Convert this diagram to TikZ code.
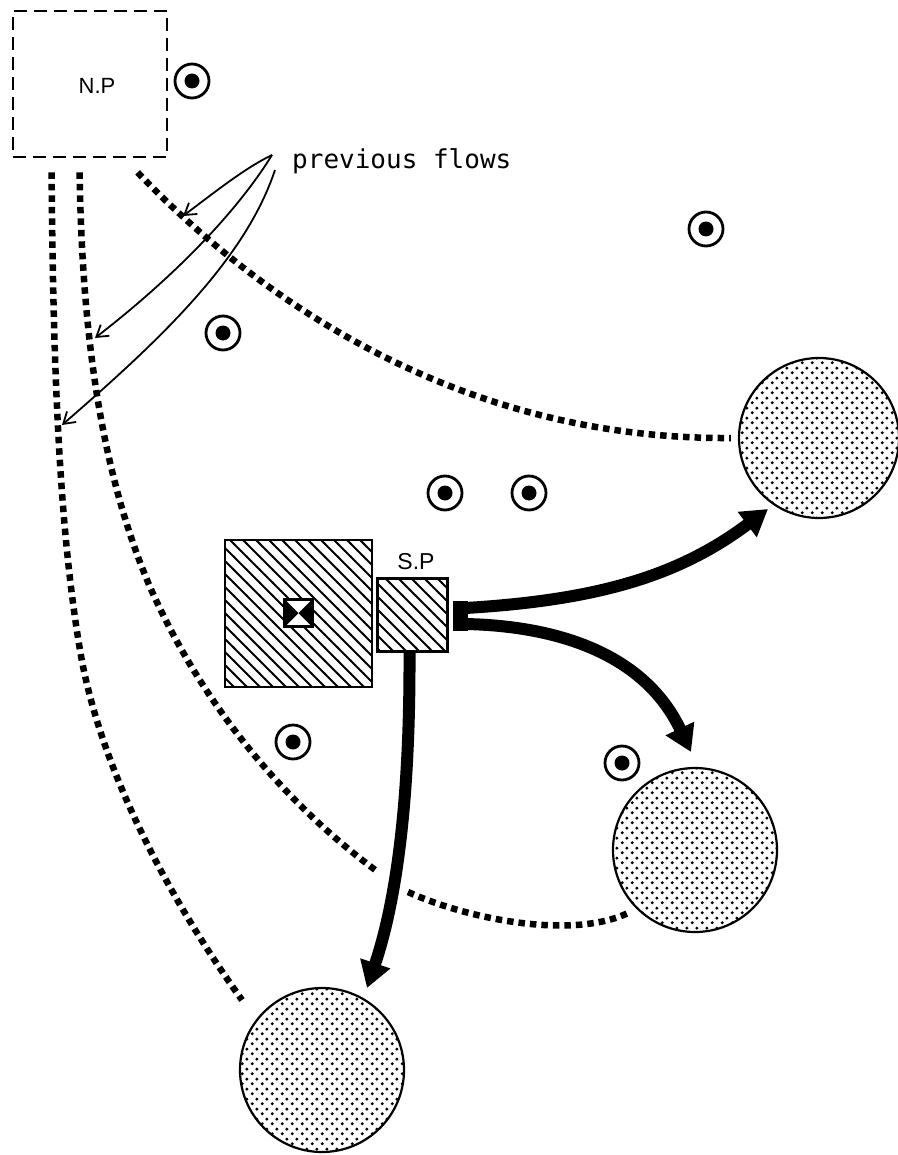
\documentclass[tikz,border=0pt]{standalone}
\usepackage{fontspec}
\setmainfont{Liberation Sans}
\newfontfamily\flowfont{DejaVu Sans Mono}
\usetikzlibrary{patterns,arrows.meta,calc}

% diagonal hatching for the built-up sites
\pgfdeclarepatternformonly{hatching}{\pgfqpoint{-1pt}{-1pt}}{\pgfqpoint{14pt}{14pt}}{\pgfqpoint{13pt}{13pt}}{%
  \pgfsetlinewidth{1.9pt}%
  \pgfpathmoveto{\pgfqpoint{-1pt}{14pt}}%
  \pgfpathlineto{\pgfqpoint{14pt}{-1pt}}%
  \pgfusepath{stroke}%
}
% dot screen for the destination areas
\pgfdeclarepatternformonly{stipple}{\pgfqpoint{0pt}{0pt}}{\pgfqpoint{10pt}{10pt}}{\pgfqpoint{10pt}{10pt}}{%
  \pgfpathcircle{\pgfqpoint{2.5pt}{2.5pt}}{1.8pt}%
  \pgfpathcircle{\pgfqpoint{7.5pt}{7.5pt}}{1.8pt}%
  \pgfusepath{fill}%
}

\tikzset{
  flow/.style={line width=6.5pt, dash pattern=on 6.5pt off 5pt},
  bigarrow/.style={line width=12pt, -{Triangle[length=26pt,width=30pt]}},
  thinarrow/.style={line width=1.8pt, -{Straight Barb[length=11pt,width=14pt]}},
  target/.style={circle, draw, line width=2.8pt, minimum size=34pt, inner sep=0pt,
    path picture={\fill[black] (path picture bounding box.center) circle (7.5pt);}},
  region/.style={circle, draw, line width=2.2pt, pattern=stipple, inner sep=0pt, minimum size=164pt},
  labelfont/.style={font=\fontsize{22}{24}\selectfont},
}

\begin{document}
\begin{tikzpicture}[x=1pt,y=-1pt]
\fill[white] (0,0) rectangle (897,1155);
\useasboundingbox (0,0) rectangle (897,1155);

% old centre
\node[draw, line width=2.8pt, dash pattern=on 13pt off 7pt, minimum width=154pt, minimum height=146pt, inner sep=0pt] (np) at (90,84) {};
\node[labelfont] (nplabel) at (97,86) {N.P};

% destination areas
\node[region, minimum size=160pt] (c1) at (819,438) {};
\node[region] (c2) at (695,850) {};
\node[region] (c3) at (322,1070) {};

% dispersed points
\node[target] (t1) at (192,81) {};
\node[target] (t2) at (706,229) {};
\node[target] (t3) at (223,333) {};
\node[target] (t4) at (445,493) {};
\node[target] (t5) at (529,493) {};
\node[target] (t6) at (293,742) {};
\node[target] (t7) at (622,763) {};

% previous flows (dotted)
\draw[flow] ($(np.south west)+(40,14)$) .. controls (53,350) and (58,520) .. (80,650)
  .. controls (100,770) and (170,900) .. (242,1000);
\draw[flow] ($(np.south west)+(68,14)$) .. controls (82,330) and (100,470) .. (150,587)
  .. controls (200,700) and (280,800) .. (378,872);
\draw[flow] ($(np.south west)+(126,14)$) .. controls (250,290) and (450,440) .. ($(c1.west)+(-7,0)$);
\coordinate (dstart) at (408,892);
\draw[flow] (dstart) .. controls (470,920) and (575,940) .. ($(c2.center)+(-65,62)$);

% caption and its pointers
\node[font=\flowfont\fontsize{26}{28}\selectfont, anchor=west, inner sep=0pt] (prev) at (292,161) {previous flows};
\draw[thinarrow] ($(prev.west)+(-20,-6)$) .. controls (245,168) and (215,192) .. (183,216);
\draw[thinarrow] ($(prev.west)+(-20,-6)$) .. controls (235,215) and (170,280) .. (95,338);
\draw[thinarrow] ($(prev.west)+(-17,9)$) .. controls (245,260) and (160,340) .. (62,425);

% new site and sub-centre
\node[draw, line width=2.2pt, pattern=hatching, minimum width=147pt, minimum height=147pt, inner sep=0pt] (site) at (298.5,613.5) {};
\node[draw, line width=3.5pt, fill=white, minimum size=27pt, inner sep=0pt,
  path picture={
    \fill[black] (path picture bounding box.north west) -- (path picture bounding box.center) -- (path picture bounding box.south west) -- cycle;
    \fill[black] (path picture bounding box.north east) -- (path picture bounding box.center) -- (path picture bounding box.south east) -- cycle;
  }] (mark) at (298.5,613) {};
\node[draw, line width=3.2pt, pattern=hatching, minimum width=70pt, minimum height=73pt, inner sep=0pt] (sp) at (412.5,615) {};
\node[font=\fontsize{23}{24}\selectfont] (splabel) at (416,562) {S.P};

% new flows from the sub-centre
\node[fill, minimum width=15pt, minimum height=30pt, inner sep=0pt] (fork) at (460.5,616) {};
\draw[bigarrow] ($(fork.center)+(5,-8)$) .. controls (600,600) and (680,575) .. ($(c1.center)+(-51,71)$);
\draw[bigarrow] ($(fork.center)+(5,8)$) .. controls (560,626) and (645,655) .. ($(c2.center)+(-4,-98)$);
\draw[bigarrow] ($(sp.south)+(-3,0)$) .. controls (410,780) and (400,890) .. ($(c3.center)+(45,-82)$);
\end{tikzpicture}
\end{document}
